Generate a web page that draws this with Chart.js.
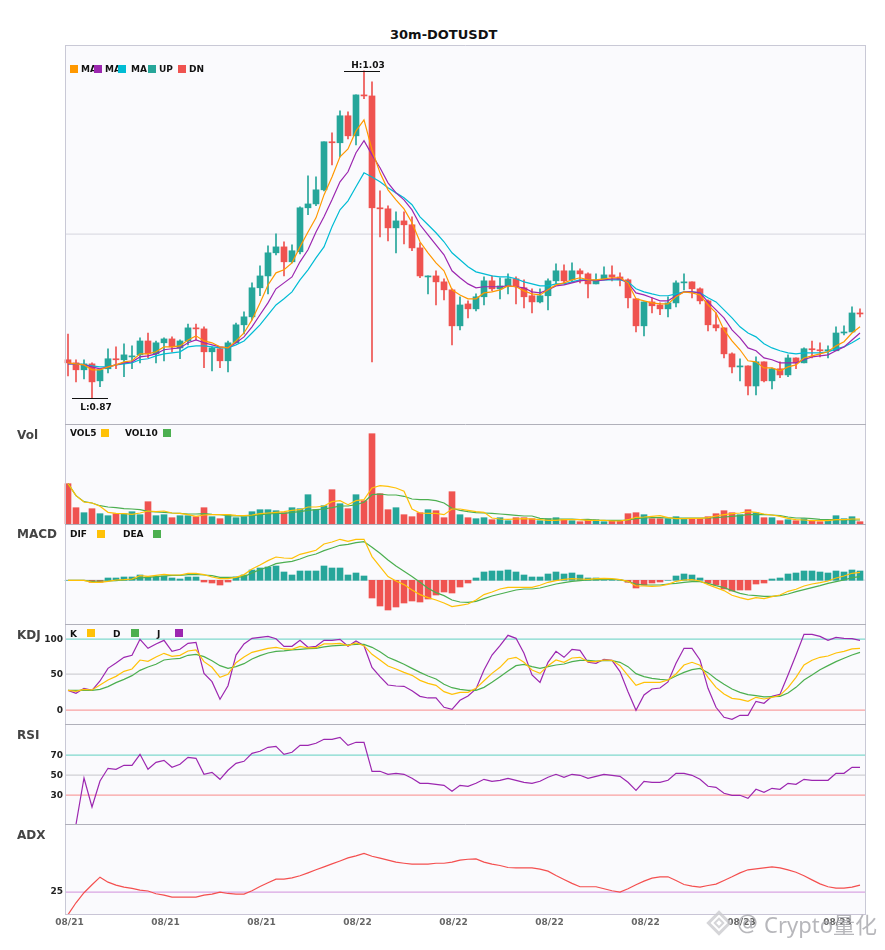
<!DOCTYPE html>
<html>
<head>
<meta charset="utf-8">
<script src="https://cdn.jsdelivr.net/npm/chart.js@4"></script>
<style>
html,body{margin:0;padding:0;background:#fff;width:885px;height:950px;overflow:hidden;font-family:"DejaVu Sans",sans-serif}
canvas{position:absolute;left:0}
.t{position:absolute;white-space:nowrap;font-weight:bold;line-height:1}
.lg{font-size:9px;color:#111;z-index:5}
.pn{font-size:12px;color:#444;left:17px;z-index:5}
.sq{position:absolute;width:8px;height:8px;z-index:6}
</style>
</head>
<body>
<script>
const tickLabels=['08/21','08/21','08/21','08/22','08/22','08/22','08/22','08/23','08/23'];
const openP=[.8887,.8872,.8838,.8867,.8784,.8843,.8892,.8887,.8901,.8911,.8979,.8916,.8970,.8989,.8945,.8979,.9043,.9038,.8926,.8941,.8882,.8970,.9058,.9097,.9239,.9297,.9410,.9439,.9366,.9415,.9630,.9649,.9718,.9953,.9948,1.0080,.9982,1.0182,1.0177,.9630,.9625,.9532,.9566,.9547,.9434,.9292,.9297,.9268,.9229,.9053,.9160,.9136,.9195,.9273,.9234,.9248,.9283,.9239,.9200,.9170,.9200,.9273,.9322,.9278,.9322,.9307,.9258,.9278,.9302,.9292,.9278,.9185,.9053,.9170,.9155,.9136,.9165,.9263,.9268,.9234,.9175,.9058,.9043,.8916,.8852,.8857,.8759,.8877,.8784,.8843,.8813,.8896,.8872,.8941,.8936,.8931,.8931,.9018,.9023,.9116];
const closeP=[.8872,.8838,.8867,.8779,.8838,.8892,.8887,.8911,.8906,.8979,.8916,.8970,.8989,.8950,.8979,.9043,.9038,.8926,.8945,.8882,.8970,.9058,.9097,.9239,.9297,.9410,.9439,.9366,.9420,.9630,.9649,.9718,.9953,.9948,1.0080,.9982,1.0182,1.0177,.9630,.9625,.9532,.9566,.9547,.9434,.9297,.9297,.9268,.9229,.9053,.9155,.9136,.9195,.9273,.9234,.9248,.9283,.9244,.9195,.9170,.9200,.9273,.9322,.9273,.9322,.9307,.9258,.9278,.9302,.9292,.9278,.9190,.9053,.9170,.9151,.9136,.9165,.9263,.9268,.9234,.9175,.9058,.9043,.8916,.8852,.8857,.8759,.8877,.8784,.8843,.8813,.8896,.8872,.8941,.8936,.8931,.8936,.9018,.9023,.9116,.9111];
const highP=[.9013,.8887,.8887,.8872,.8838,.8941,.8950,.8965,.8955,.8994,.9018,.8979,.8994,.8999,.8984,.9062,.9062,.9048,.8950,.8945,.8979,.9067,.9121,.9263,.9346,.9444,.9503,.9464,.9449,.9635,.9786,.9781,.9953,.9997,1.0104,1.0099,1.0182,1.03,1.0246,.9713,.9640,.9610,.9610,.9586,.9459,.9297,.9322,.9283,.9234,.9195,.9175,.9209,.9292,.9297,.9288,.9307,.9292,.9278,.9234,.9234,.9283,.9356,.9351,.9361,.9332,.9312,.9307,.9341,.9346,.9312,.9283,.9185,.9170,.9190,.9165,.9195,.9273,.9307,.9268,.9239,.9180,.9116,.9043,.8921,.8892,.8857,.8901,.8877,.8847,.8877,.8911,.8896,.8945,.8979,.8970,.8955,.9048,.9053,.9146,.9136];
const lowP=[.8808,.8779,.8794,.8701,.8755,.8823,.8843,.8804,.8843,.8872,.8896,.8872,.8882,.8926,.8892,.8960,.8984,.8848,.8833,.8848,.8828,.8970,.9013,.9082,.9200,.9209,.9400,.9297,.9361,.9405,.9596,.9640,.9713,.9840,.9879,.9967,.9938,1.0163,.8877,.9488,.9468,.9410,.9454,.9420,.9288,.9209,.9155,.9180,.8960,.9033,.9092,.9126,.9155,.9224,.9185,.9209,.9160,.9141,.9116,.9165,.9131,.9258,.9258,.9268,.9263,.9190,.9258,.9278,.9273,.9248,.9141,.9023,.9004,.9116,.9107,.9097,.9146,.9229,.9190,.9160,.9028,.9028,.8896,.8823,.8784,.8715,.8715,.8779,.8745,.8799,.8804,.8843,.8872,.8896,.8901,.8896,.8931,.9009,.9023,.9097];
const maFast=[.8872,.8867,.8862,.8838,.8838,.8852,.8862,.8877,.8882,.8916,.8916,.8926,.8950,.8950,.8955,.8984,.9004,.8979,.8970,.8950,.8945,.8979,.9018,.9082,.9165,.9253,.9312,.9327,.9361,.9439,.9512,.9581,.9693,.9781,.9879,.9918,1.0006,1.0060,.9914,.9801,.9718,.9669,.9625,.9557,.9464,.9410,.9361,.9322,.9229,.9204,.9185,.9185,.9214,.9219,.9229,.9248,.9244,.9224,.9209,.9204,.9229,.9253,.9263,.9278,.9288,.9278,.9278,.9283,.9288,.9288,.9263,.9185,.9175,.9165,.9160,.9160,.9195,.9219,.9214,.9204,.9155,.9116,.9033,.8979,.8936,.8882,.8877,.8847,.8847,.8833,.8852,.8862,.8896,.8906,.8916,.8926,.8955,.8975,.9018,.9048];
const maMid=[.8867,.8867,.8862,.8852,.8843,.8852,.8862,.8872,.8877,.8901,.8906,.8916,.8936,.8941,.8945,.8970,.8984,.8970,.8960,.8950,.8945,.8970,.8999,.9048,.9107,.9165,.9234,.9263,.9292,.9366,.9425,.9512,.9586,.9669,.9757,.9806,.9899,.9958,.9889,.9826,.9752,.9703,.9669,.9620,.9547,.9498,.9449,.9400,.9322,.9288,.9258,.9239,.9244,.9244,.9244,.9248,.9244,.9239,.9219,.9214,.9229,.9248,.9253,.9263,.9273,.9278,.9273,.9278,.9283,.9283,.9263,.9214,.9204,.9190,.9175,.9175,.9200,.9219,.9219,.9214,.9170,.9131,.9092,.9033,.8994,.8945,.8931,.8896,.8887,.8872,.8872,.8872,.8887,.8901,.8906,.8911,.8931,.8950,.8984,.9018];
const maSlow=[.8867,.8867,.8862,.8857,.8852,.8852,.8862,.8867,.8872,.8887,.8892,.8906,.8916,.8921,.8926,.8950,.8955,.8955,.8950,.8945,.8945,.8960,.8979,.9018,.9058,.9107,.9155,.9185,.9219,.9278,.9327,.9385,.9439,.9537,.9620,.9664,.9733,.9801,.9781,.9757,.9728,.9703,.9679,.9645,.9586,.9547,.9508,.9464,.9410,.9376,.9342,.9317,.9307,.9297,.9292,.9292,.9283,.9268,.9258,.9248,.9248,.9258,.9258,.9268,.9278,.9278,.9273,.9278,.9278,.9278,.9268,.9234,.9219,.9209,.9200,.9200,.9209,.9219,.9219,.9214,.9190,.9170,.9131,.9092,.9048,.9018,.8999,.8965,.8945,.8931,.8921,.8916,.8921,.8921,.8921,.8926,.8940,.8950,.8970,.8994];
const volume=[40.3,16.3,11.3,15.3,10.3,8.3,10.3,10.3,12.3,9.3,22.3,8.3,9.3,6.3,8.3,8.3,7.3,16.3,7.3,5.3,9.3,6.3,7.3,12.3,14.3,14.3,13.3,11.3,16.3,15.3,29.3,14.3,18.3,34.3,20.3,15.3,29.3,23.3,90.3,30.3,14.3,16.3,9.3,7.3,11.3,14.3,13.3,6.3,32.3,9.3,6.3,5.3,6.3,4.3,6.3,3.3,6.3,6.3,5.3,3.3,5.3,6.3,4.3,3.3,2.3,4.3,4.3,2.3,3.3,3.3,10.3,11.3,9.3,5.3,5.3,5.3,7.3,5.3,5.3,5.3,7.3,10.3,13.3,11.3,9.3,14.3,11.3,6.3,6.3,3.3,4.3,3.3,5.3,3.3,2.3,3.3,8.3,5.3,7.3,2.3];
const vol5=[40.3,28.3,22,21,17.7,11.7,10.7,10.3,9.7,11,13,12.3,13,11,10.7,9.3,7.7,9,9.3,9.3,9.3,8.7,8.3,9,10.3,11,11.7,12.3,13.7,14.3,17,17,18,22.3,23.3,19.3,23.3,24.3,36,38.3,37.7,36,32.7,15,11,10.7,10.7,9.3,15,15,13.7,12.3,11.7,6,5,4.7,5,5.3,5,4.3,3.7,3.7,4.3,4.3,4.3,3.7,3.7,3.7,3,3,4.3,6.7,7,7.7,8.3,6.3,5.3,5.3,5.7,5.7,6.3,8,9.3,10.3,11,12.3,11.7,10,9,7.7,5.7,4.3,4,3.3,3.3,3.3,4.3,4.3,5,5];
const vol10=[40.3,28.3,22.3,21,18.3,17,16.3,15.3,15,14.3,12.7,12,11.7,11,10.7,10,10,10.3,9.7,9.3,8.3,8,8,8.3,9.3,10,10.7,10.7,11.7,12.3,13.7,14.3,15,16.3,18,18,19.3,21.7,29.3,30,29,29,27.7,25,24.3,24.3,23.3,21,15.7,13.7,12.3,11.3,11,10.7,10,9.3,8.7,8,8,5.7,5,5,5,5,4.3,4.7,4,3.7,3.7,3.7,4,5.3,6,6.3,6.3,6,6,6,6,6,6,6.3,7,7.7,8.3,9.3,9.3,9.3,9,8.3,7,6,6,5.3,4.7,4.3,4.3,4.3,4,4];
const macdHist=[0,0,0,-2,-2,2.3,2.3,3.3,3.3,5.3,3.3,3.3,4.3,2.3,1.3,3.3,3.3,-1.7,-2.7,-4.7,-1.7,3.3,5.3,10.3,12.3,13.3,14.3,8.3,5.3,9.3,9.3,9.3,14.3,12.3,12.3,5.3,7.3,4.3,-17.7,-25.7,-29.7,-26.7,-22.7,-20.7,-21.7,-18.7,-14.7,-11.7,-12.7,-6.7,-2.7,2.3,8.3,9.3,9.3,10.3,8.3,5.3,3.3,3.3,6.3,8.3,6.3,7.3,5.3,2.3,2.3,1,1,0,-2,-7.7,-4.7,-2.7,-1.7,0,4.3,6.3,5.3,2.3,-2.7,-4.7,-8.7,-10.7,-9.7,-9.7,-3.7,-2.7,1.3,2.3,6.3,7.3,9.3,9.3,8.3,7.3,9.3,8.3,10.3,9.3];
const dif=[0,0,0,-2,-2,-1,.3,.7,1.3,4.7,4,5,6,5.3,5.3,7,7,5.7,3.3,1.7,1.7,3,5.7,11.3,15.3,19.7,23.3,22.3,22,26,28,30,36.3,38.3,41,39,41,41,23.7,13.7,3.7,-.7,-4.3,-9.7,-14.3,-17.3,-19.7,-22.7,-26.3,-25,-23.7,-19.7,-14.3,-11.7,-8.7,-7,-7,-7,-7,-5,-2,-.3,1,1.7,1.3,1,1.7,2,1.7,.7,-1,-5.7,-5.7,-6,-5.7,-4,-1,.3,.7,-.7,-4.3,-7.3,-10.3,-15,-17.3,-19.3,-17.3,-18.3,-16.3,-14.7,-11,-9,-5.7,-3.7,-2.3,-.7,2.3,4.3,7,8];
const dea=[0,0,0,-1,-.7,-.7,-.3,.3,1,2.3,3,3.7,4.3,5,5,5.7,6,5.3,4.7,3,3,3,3.7,7.3,10.7,13.3,16.7,18,19,21.3,24.3,26.3,29.7,32.3,35,36,37.7,38.7,33,27,20.3,14.3,9,3.7,-2,-8,-12.3,-15.3,-19.7,-21.7,-22,-21,-18.3,-15.7,-13.7,-11.7,-9.7,-8.7,-8.7,-7.7,-5.7,-3.7,-2.3,-1,-.3,.3,.7,1,1,.7,-1.3,-3.7,-4.7,-4.7,-4.7,-3.7,-3,-2,-1.3,-1.3,-3,-5.3,-7.3,-10.3,-13,-14.7,-15.3,-16,-16,-15.3,-13.7,-11.3,-9.3,-7.3,-5.3,-3,-1.3,.3,2.7,3.7];
const kdjK=[28.5,27.1,29.9,29,36,43,48.1,55.1,58.4,71,69.2,75.2,80.4,76.2,77.6,83.7,85.1,68.7,60.8,46.7,50.9,67.3,75.2,81.8,84.6,87.4,88.8,86.5,86,90.2,87.9,88.3,93.5,93.5,94.4,91.1,94.9,91.1,79,71,62.6,58.4,53.7,49.5,42.5,38.3,35.5,26.6,22.9,25.7,25.7,31.3,42,52.3,60.8,72.4,74.8,67.8,57,52.3,63.1,71,67.8,73.8,74.8,68.7,68.7,71,70.6,63.1,49,35.5,39.7,39.7,39.7,43,51.4,64,67.8,63.6,46.7,32.7,23.4,17.3,15.9,13.1,18.7,16.4,18.7,21.5,32.2,46.7,64,70.6,74.8,76.6,80.8,83.2,86.5,87.4];
const kdjD=[28.5,28.5,28.5,28.5,29.9,33.7,39.3,43.9,49.1,56.5,61.2,65,71,72.4,73.4,77.6,79,75.7,70.1,63.1,59.3,61.7,65.9,72.4,77.1,80.8,83.2,83.7,85.1,86,86.9,87.4,89.3,90.7,91.6,92.1,93,93,88.8,82.7,74.8,70.1,65,59.3,53.7,48.6,44.4,36.9,32.2,29.9,28.5,28.5,32.7,39.7,47.7,55.6,63.1,65,61.7,59.3,61.7,64,65.4,68.7,70.6,70.6,69.6,70.1,70.1,67.8,61.7,51.9,47.7,45.3,43.9,43,48.6,53.7,57.5,59.3,53.3,44.4,36.9,30.4,25.7,22.4,21,19.2,19.6,20.1,24.8,32.7,43,50,57.5,63.1,68.7,73.4,78,81.8];
const kdjJ=[28.5,24.3,31.3,28.5,41.6,59.3,66.8,74.8,77.6,100,87.4,93.5,98.6,83.2,86,94.4,95.8,52.3,40.7,15.9,35,78,93.5,101.4,102.8,104.2,100.9,90.2,90.2,98.6,88.8,90.2,98.6,98.6,100,90.2,97.7,91.1,60.7,47.7,36,34.6,34.1,28,20.1,17.8,17.8,4.7,1.9,14.5,20.6,30.4,57,78,91.1,105.6,101.4,80.4,50,39.7,67.8,83.2,74.8,86,84.6,67.8,66.4,72,70.6,54.7,26.6,.5,22,30.4,31.8,40.2,66.4,87.4,87.4,71,31.3,4.7,-9.3,-12.1,-6.5,-6.5,13.1,10.3,20.1,22.9,50,78,107,107,104.2,98.6,102.8,101.4,100.9,98.6];
const rsi=[0,1,47.3,18.3,44.3,57,56,60,60,71,56,63,65,58,61,68,67,51,53,46,55,62,64,72,74,78,79,71,73,80,80,82,86,86,88,80,83,83,54,54,51,52,51,47,42,42,41,40,34,40,39,42,46,44,45,47,45,43,42,44,48,51,48,51,50,47,49,51,50,49,43,35,44,43,43,45,52,52,50,46,39,38,32,30,30,27,36,33,37,36,42,41,46,45,45,45,52,52,58,58];
const adx=[10.2,18,24.6,29.8,34.8,31.5,29.6,28.3,27.4,26.3,25.7,23.9,23,21.7,21.7,21.7,21.7,23,23.7,25,24.1,23.7,23.7,25.9,28.7,31.1,33.5,33.5,34.3,35.7,37.6,39.6,41.5,43.5,45.4,47.4,48.7,50.4,48.5,47.2,45.9,44.6,43.9,43.3,43.3,43.3,43.9,43.9,44.6,45.9,46.5,46.7,44.6,43.3,42.4,41.1,40.9,40.9,40.9,40,38.7,35.9,33.3,30.7,28.5,28.5,28.5,27.2,25.9,25,27.2,29.8,32.2,34.1,35,35,32.6,30,28.9,28.3,29.3,30.2,32.6,35,37.6,39.6,40.2,40.9,41.5,40.9,39.6,38,35.7,33,30.4,28.5,27.6,27.6,28.3,29.6];
const candleIdx=openP.map((_,i)=>i);

const UP='#26a69a',DN='#ef5350',FONT='"DejaVu Sans"';
const isUp=i=>closeP[i]>=openP[i];
const wick=(flag)=>candleIdx.map(i=>isUp(i)===flag?[lowP[i],highP[i]]:null);
const body=(flag)=>candleIdx.map(i=>isUp(i)===flag?[Math.min(openP[i],closeP[i]),Math.max(openP[i],closeP[i])]:null);
const barDs=(data,color,thick)=>({type:'bar',data,backgroundColor:color,barThickness:thick,grouped:false,order:2,borderWidth:0});
const lineDs=(data,color,w)=>({type:'line',data,borderColor:color,borderWidth:w||1.2,pointRadius:0,tension:0,fill:false,order:1,spanGaps:false});

const frame={id:'frame',
  beforeDatasetsDraw(c){const a=c.chartArea,g=c.ctx;g.save();g.fillStyle='#fafafd';g.fillRect(a.left+1,a.top,a.right-a.left+1,a.bottom-a.top);
    g.lineWidth=1.2;(c.canvas._gridLines||[]).forEach(t=>{const py=Math.floor(c.scales.y.getPixelForValue(t.v))+.1;g.strokeStyle=t.color;g.beginPath();g.moveTo(a.left+1,py);g.lineTo(a.right+2,py);g.stroke();});g.restore();},
  afterDraw(c){const a=c.chartArea,g=c.ctx,o=c.canvas._frameOpts;g.save();g.lineWidth=1;
    g.strokeStyle='#c9c9d6';g.beginPath();g.moveTo(a.left+1.5,a.top);g.lineTo(a.left+1.5,a.bottom);g.moveTo(a.right+1.5,a.top);g.lineTo(a.right+1.5,a.bottom);g.stroke();
    g.strokeStyle=o.topColor;g.beginPath();g.moveTo(a.left+1,a.top+.5);g.lineTo(a.right+2,a.top+.5);g.stroke();
    if(o.bottomLine){g.strokeStyle='#c9c5d6';g.beginPath();g.moveTo(a.left+1,a.bottom-.5);g.lineTo(a.right+2,a.bottom-.5);g.stroke();}
    g.restore();}};
const extremes={id:'extremes',afterDraw(c){
  const g=c.ctx,x=c.scales.x,y=c.scales.y;
  const mark=(idx,val,dx1,dx2,txt,tx,ty)=>{const px=x.getPixelForValue(idx),py=Math.round(y.getPixelForValue(val))+.5;
    g.save();g.strokeStyle='#111';g.lineWidth=1;g.beginPath();g.moveTo(px+dx1,py);g.lineTo(px+dx2,py);g.stroke();
    g.fillStyle='#111';g.font='bold 9px '+FONT;g.textAlign='center';g.textBaseline='middle';g.fillText(txt,px+tx,py+ty);g.restore();};
  mark(37,highP[37],-20,16,'H:'+highP[37].toFixed(2),4,-6);
  const li=lowP.indexOf(Math.min(...lowP));
  mark(li,lowP[li],-20,16,'L:'+lowP[li].toFixed(2),4,9);
}};
const noPad=s=>{s.paddingTop=0;s.paddingBottom=0;s.paddingLeft=0;s.paddingRight=0;};

function panel(top,height,datasets,y,o){
  o=o||{};
  const cv=document.createElement('canvas');cv.width=885;cv.height=height;cv.style.top=top+'px';cv.style.width='885px';cv.style.height=height+'px';document.body.appendChild(cv);
  const hold=y.ticks||[];
  cv._gridLines=hold;
  cv._frameOpts={topColor:o.topColor||'#b0b0ba',bottomLine:!!o.xAxis};
  return new Chart(cv,{data:{labels:candleIdx,datasets},
    plugins:[frame].concat(o.plugins||[]),
    options:{responsive:false,animation:false,devicePixelRatio:1,
      layout:{autoPadding:false,padding:{left:0,right:21,top:0,bottom:0}},
      plugins:{legend:{display:false},tooltip:{enabled:false}},
      scales:{
        x:{type:'category',offset:true,display:!!o.xAxis,grid:{display:false,drawTicks:false},border:{display:false},
          afterFit(s){if(o.xAxis)s.height=20;noPad(s);},
          ticks:{autoSkip:false,maxRotation:0,minRotation:0,padding:2,labelOffset:1.5,color:'#666',font:{family:FONT,size:9,weight:'bold'},
            callback(v,i){return i%12===0?tickLabels[i/12]:'';}}},
        y:{min:y.min,max:y.max,position:'left',
          afterFit(s){s.width=64;noPad(s);},
          afterBuildTicks(s){s.ticks=hold.map(t=>({value:t.v}));},
          border:{display:false},
          grid:{display:false,drawTicks:false,tickLength:0},
          ticks:{padding:1,color:'#222',font:{family:FONT,size:9,weight:'bold'},
            callback(v){return y.labels?String(v):'';}}}
      }}});
}

panel(45,379,[
  lineDs(maFast,'#ff9800'),lineDs(maMid,'#9c27b0'),lineDs(maSlow,'#00bcd4'),
  barDs(wick(true),UP,1),barDs(body(true),UP,6),barDs(wick(false),DN,1),barDs(body(false),DN,6)
],{min:.8573,max:1.0426,ticks:[{v:.95,color:'#dcdce4'}]},{plugins:[extremes],topColor:'#c9c9d6'});

panel(424,100,[
  lineDs(vol5,'#ffc107'),lineDs(vol10,'#4caf50'),
  barDs(volume,candleIdx.map(i=>isUp(i)?UP:DN),6)
],{min:0,max:100,ticks:[]});

panel(524,100,[
  lineDs(dif,'#ffc107'),lineDs(dea,'#4caf50'),
  barDs(macdHist,macdHist.map(v=>v>=0?UP:DN),6)
],{min:-43.7,max:56.3,ticks:[{v:0,color:'#dcdce4'}]});

panel(624,100,[
  lineDs(kdjK,'#ffc107'),lineDs(kdjD,'#4caf50'),lineDs(kdjJ,'#9c27b0')
],{min:-18.7,max:121.5,labels:true,ticks:[{v:100,color:'#7fd8cd'},{v:50,color:'#cfcfd4'},{v:0,color:'#f9a0a0'}]});

panel(724,100,[
  lineDs(rsi,'#9c27b0')
],{min:1.3,max:101.3,labels:true,ticks:[{v:70,color:'#7fd8cd'},{v:50,color:'#cfcfd4'},{v:30,color:'#f9a0a0'}]});

panel(824,111,[
  lineDs(adx,'#f44f4f')
],{min:10,max:69.6,labels:true,ticks:[{v:25,color:'#d8a4e2'}]},{xAxis:true});

function txt(s,x,y,cls,extra){const d=document.createElement('div');d.className='t '+cls;d.textContent=s;d.style.left=x+'px';d.style.top=y+'px';if(extra)Object.assign(d.style,extra);document.body.appendChild(d);return d;}
function sq(x,y,c){const d=document.createElement('div');d.className='sq';d.style.left=x+'px';d.style.top=y+'px';d.style.background=c;document.body.appendChild(d);}

txt('30m-DOTUSDT',390,27.5,'',{fontSize:'13px',color:'#111',zIndex:5});
const mainLegend=[['',70,'#ff9800'],['MA',81,null],['',94,'#9c27b0'],['MA',105,null],['',118,'#00bcd4'],['MA',131,null],['',148,UP],['UP',159,null],['',178,DN],['DN',189,null]];
mainLegend.forEach(r=>{if(r[2])sq(r[1],65,r[2]);else txt(r[0],r[1],64.5,'lg');});
[['Vol',428.5],['MACD',528],['KDJ',629],['RSI',729],['ADX',829]].forEach(r=>txt(r[0],17,r[1],'pn'));
[['VOL5',70,429,null],['VOL10',125,429,null],['DIF',70,529.5,null],['DEA',123,529.5,null],['K',70,629.5,null],['D',113,629.5,null],['J',157,629.5,null]].forEach(r=>txt(r[0],r[1],r[2],'lg'));
[[101,429,'#ffc107'],[163,429,'#4caf50'],[97,530,'#ffc107'],[153,530,'#4caf50'],[87,629,'#ffc107'],[131,629,'#4caf50'],[175,629,'#9c27b0']].forEach(r=>sq(r[0],r[1],r[2]));

// watermark
function diamond(x,y,s,w){const d=document.createElement('div');d.style.cssText='position:absolute;left:'+x+'px;top:'+y+'px;width:'+s+'px;height:'+s+'px;border:'+w+'px solid rgba(195,195,200,.7);box-sizing:border-box;transform:rotate(45deg);z-index:8;background:rgba(255,255,255,.35)';document.body.appendChild(d);}
diamond(710,914,18,3);diamond(715,919,8,2);
txt('@',737,913,'',{fontWeight:'normal',fontSize:'21px',color:'rgba(165,165,170,.8)',zIndex:8});
txt('Crypto量化',764,913,'',{fontWeight:'normal',fontSize:'22px',fontFamily:'"Noto Sans","Noto Sans CJK SC",sans-serif',color:'rgba(165,165,170,.8)',zIndex:8});
</script>
</body>
</html>
